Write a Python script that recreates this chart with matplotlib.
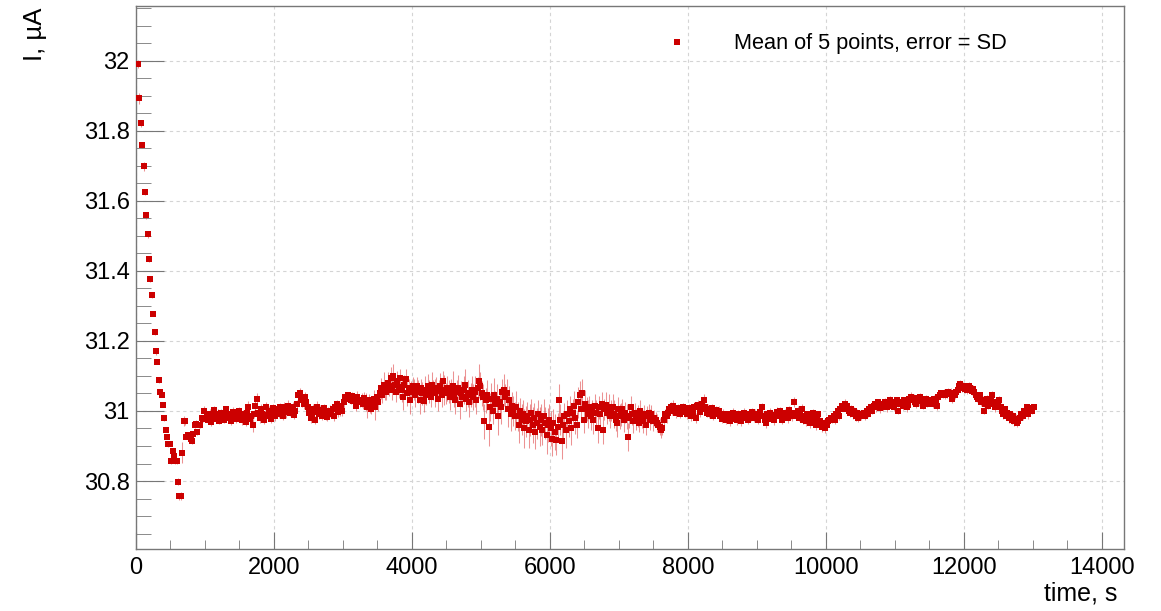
import numpy as np
import matplotlib.pyplot as plt
from matplotlib.ticker import MultipleLocator, FuncFormatter
from matplotlib.lines import Line2D

plt.rcParams['font.family'] = ['Liberation Sans', 'DejaVu Sans']

# DATA: mean current (uA), one point every 20 s starting at 30 s
T_START = 30
T_STEP = 20

current = [
    31.991, 31.892, 31.821, 31.759, 31.698, 31.625, 31.558, 31.505, 31.433, 31.376, 31.330, 31.278, 31.226, 31.170, 31.140, 31.089, 31.053, 31.045, 31.017, 30.979, 30.946, 30.927, 30.906, 30.906, 30.858,
    30.887, 30.871, 30.858, 30.858, 30.798, 30.757, 30.757, 30.881, 30.971, 30.971, 30.927, 30.932, 30.927, 30.920, 30.913, 30.933, 30.960, 30.963, 30.939, 30.960, 30.960, 30.981, 30.978, 31.001, 30.981,
    30.985, 30.975, 30.992, 30.968, 30.980, 31.002, 30.985, 30.978, 30.990, 30.972, 30.995, 30.988, 30.975, 30.982, 31.005, 30.990, 30.980, 30.970, 30.985, 30.998, 30.992, 30.978, 30.985, 31.000, 30.988,
    30.975, 30.990, 30.982, 30.968, 30.995, 31.010, 30.978, 30.985, 30.960, 30.992, 31.015, 31.035, 30.995, 30.980, 31.005, 30.990, 30.975, 30.988, 31.010, 30.985, 31.000, 30.978, 30.995, 31.008, 30.985,
    30.995, 31.005, 30.990, 31.010, 31.002, 30.985, 31.012, 30.998, 31.008, 31.015, 30.995, 31.005, 31.010, 30.988, 31.000, 31.020, 31.045, 31.050, 31.035, 31.030, 31.020, 31.040, 31.025, 31.010, 30.995,
    30.980, 30.992, 31.005, 30.975, 30.998, 31.010, 30.990, 31.002, 30.985, 30.995, 31.008, 30.988, 30.982, 30.998, 31.000, 30.990, 31.005, 30.985, 31.010, 31.020, 30.998, 31.005, 31.015, 31.000, 31.025,
    31.040, 31.035, 31.045, 31.038, 31.030, 31.042, 31.028, 31.035, 31.015, 31.040, 31.032, 31.025, 31.030, 31.020, 31.038, 31.025, 31.010, 31.030, 31.015, 31.005, 31.020, 31.035, 31.010, 31.040, 31.025,
    31.050, 31.065, 31.045, 31.075, 31.060, 31.055, 31.080, 31.070, 31.095, 31.060, 31.100, 31.075, 31.055, 31.085, 31.068, 31.095, 31.060, 31.040, 31.075, 31.090, 31.050, 31.065, 31.030, 31.055, 31.070,
    31.060, 31.045, 31.070, 31.055, 31.030, 31.065, 31.050, 31.028, 31.060, 31.045, 31.070, 31.055, 31.040, 31.075, 31.060, 31.050, 31.065, 31.035, 31.058, 31.070, 31.045, 31.085, 31.060, 31.050, 31.065,
    31.055, 31.040, 31.060, 31.070, 31.045, 31.030, 31.055, 31.065, 31.020, 31.050, 31.040, 31.060, 31.075, 31.035, 31.050, 31.025, 31.045, 31.060, 31.040, 31.055, 31.030, 31.065, 31.085, 31.070, 31.050,
    31.040, 30.970, 31.030, 31.045, 30.955, 31.010, 31.035, 31.000, 31.045, 31.020, 31.035, 30.985, 31.025, 31.010, 31.055, 31.060, 31.040, 31.050, 31.005, 31.030, 30.990, 31.015, 31.000, 30.985, 31.010,
    30.985, 30.960, 31.000, 30.975, 30.990, 30.950, 30.970, 30.985, 30.945, 30.975, 30.995, 30.960, 30.980, 30.940, 30.965, 30.990, 30.955, 30.975, 30.945, 30.985, 30.965, 30.930, 30.960, 30.975, 30.950,
    30.920, 30.965, 30.940, 30.918, 30.955, 31.030, 30.975, 30.915, 30.960, 30.985, 30.945, 30.990, 30.970, 31.005, 30.950, 30.995, 31.015, 30.980, 30.960, 31.025, 31.045, 31.005, 31.050, 30.975, 31.020,
    31.005, 30.990, 31.010, 30.985, 31.000, 30.975, 31.015, 30.995, 30.950, 31.010, 30.990, 31.020, 30.945, 31.005, 31.018, 30.995, 31.010, 30.985, 31.000, 31.012, 30.990, 30.975, 30.965, 31.005, 30.985,
    30.990, 31.005, 30.975, 30.995, 30.985, 30.925, 30.980, 31.010, 30.990, 30.970, 30.995, 30.975, 30.985, 30.965, 31.000, 30.980, 30.970, 30.990, 30.960, 30.985, 30.995, 30.975, 30.990, 30.970, 30.980,
    30.975, 30.965, 30.960, 30.955, 30.945, 30.950, 30.975, 30.990, 30.985, 30.995, 31.005, 31.010, 31.000, 31.015, 31.005, 30.995, 31.008, 31.000, 30.990, 31.005, 31.012, 30.998, 31.000, 30.990, 31.008,
    31.000, 30.985, 30.995, 31.012, 30.980, 31.015, 31.018, 30.998, 31.005, 31.020, 31.030, 31.010, 30.995, 31.005, 30.990, 31.000, 31.008, 30.985, 30.995, 31.002, 30.990, 31.000, 30.985, 30.978, 30.992,
    30.985, 30.975, 30.990, 30.980, 30.970, 30.985, 30.995, 30.978, 30.988, 30.975, 30.992, 30.982, 30.970, 30.985, 30.995, 30.980, 30.988, 30.975, 30.990, 30.985, 30.998, 30.980, 30.992, 30.985, 30.975,
    30.990, 30.998, 31.010, 30.985, 30.975, 30.965, 30.990, 30.982, 30.995, 30.978, 30.988, 30.975, 30.985, 30.998, 30.990, 31.000, 30.985, 30.975, 30.990, 30.995, 30.985, 30.980, 31.002, 30.990, 30.985,
    31.025, 30.995, 30.985, 31.000, 30.980, 30.990, 31.005, 30.975, 30.985, 30.970, 30.990, 30.980, 30.965, 30.985, 30.995, 30.975, 30.960, 30.980, 30.990, 30.970, 30.960, 30.955, 30.965, 30.950, 30.960,
    30.970, 30.975, 30.980, 30.978, 30.985, 30.975, 30.990, 31.000, 30.985, 31.005, 31.015, 31.010, 31.020, 31.005, 31.015, 31.000, 30.995, 31.005, 30.990, 31.000, 30.985, 30.995, 30.980, 30.992, 30.985,
    30.990, 30.995, 30.985, 31.000, 30.992, 31.005, 31.010, 31.000, 31.015, 31.020, 31.010, 31.025, 31.015, 31.008, 31.020, 31.012, 31.025, 31.018, 31.010, 31.020, 31.030, 31.015, 31.022, 31.010, 31.025,
    31.030, 31.000, 31.020, 31.025, 31.015, 31.030, 31.022, 31.010, 31.018, 31.035, 31.040, 31.030, 31.038, 31.025, 31.020, 31.035, 31.028, 31.040, 31.030, 31.015, 31.025, 31.035, 31.020, 31.030, 31.025,
    31.030, 31.020, 31.035, 31.025, 31.015, 31.040, 31.045, 31.050, 31.048, 31.052, 31.045, 31.050, 31.055, 31.048, 31.052, 31.035, 31.050, 31.045, 31.055, 31.060, 31.072, 31.078, 31.065, 31.070, 31.062,
    31.068, 31.060, 31.072, 31.065, 31.058, 31.062, 31.055, 31.045, 31.040, 31.035, 31.045, 31.025, 31.030, 31.000, 31.020, 31.035, 31.015, 31.025, 31.030, 31.045, 31.020, 31.010, 31.025, 31.015, 31.030,
    31.010, 31.000, 30.990, 31.005, 30.985, 30.995, 30.980, 30.990, 30.975, 30.985, 30.970, 30.978, 30.965, 30.972, 30.980, 30.990, 30.985, 31.000, 30.995, 31.010, 30.990, 31.002, 31.008, 31.000, 31.010,
]

# standard deviation of each mean, in units of 0.001 uA
current_sd_milli = [
    11, 15, 10, 9, 12, 8, 9, 10, 8, 7, 7, 8, 8, 10, 7, 8, 6, 6, 7, 8, 6, 7, 8, 6, 9,
    7, 8, 8, 8, 10, 10, 12, 30, 15, 10, 8, 9, 8, 10, 8, 7, 9, 10, 8, 9, 10, 8, 9, 12, 10,
    12, 10, 14, 11, 9, 13, 10, 12, 15, 9, 11, 14, 10, 12, 9, 13, 11, 10, 12, 14, 9, 11, 13, 10, 12,
    14, 12, 16, 10, 13, 18, 11, 15, 20, 12, 14, 16, 10, 13, 15, 12, 11, 14, 16, 10, 13, 12, 15, 11, 14,
    13, 15, 10, 12, 16, 11, 14, 18, 12, 15, 10, 13, 17, 12, 14, 11, 16, 15, 12, 18, 14, 13, 16, 12, 15,
    14, 12, 16, 11, 15, 18, 12, 14, 10, 16, 13, 15, 12, 14, 17, 11, 15, 13, 16, 12, 14, 18, 13, 15, 17,
    12, 14, 10, 15, 11, 13, 16, 12, 14, 18, 11, 15, 20, 13, 16, 25, 30, 18, 22, 15, 20, 26, 35, 20, 24,
    25, 30, 22, 35, 28, 24, 32, 26, 30, 28, 35, 25, 30, 28, 32, 26, 34, 38, 28, 30, 35, 26, 40, 30, 28,
    30, 35, 28, 32, 38, 26, 34, 30, 40, 28, 35, 32, 30, 36, 28, 40, 32, 35, 30, 38, 34, 28, 42, 30, 36,
    32, 38, 30, 45, 35, 40, 32, 38, 42, 35, 30, 40, 46, 34, 38, 42, 35, 40, 36, 44, 38, 32, 48, 40, 35,
    38, 50, 35, 42, 55, 40, 45, 38, 50, 36, 42, 55, 40, 48, 36, 45, 38, 42, 50, 40, 46, 38, 44, 40, 48,
    42, 50, 38, 45, 40, 55, 44, 40, 52, 46, 38, 50, 42, 48, 44, 40, 55, 46, 42, 50, 45, 52, 48, 44, 50,
    48, 42, 50, 45, 40, 46, 44, 52, 40, 38, 50, 42, 45, 38, 48, 40, 42, 46, 38, 44, 40, 36, 42, 38, 40,
    35, 40, 32, 38, 30, 42, 34, 36, 40, 32, 38, 34, 40, 30, 36, 32, 38, 34, 30, 36, 40, 32, 38, 34, 36,
    32, 28, 34, 30, 36, 40, 28, 32, 30, 34, 28, 30, 32, 26, 30, 28, 32, 26, 30, 28, 25, 30, 26, 28, 24,
    22, 25, 20, 24, 22, 18, 20, 16, 18, 15, 14, 16, 12, 15, 13, 14, 12, 15, 11, 13, 12, 14, 11, 13, 12,
    12, 14, 10, 13, 15, 11, 12, 14, 10, 13, 18, 12, 11, 14, 10, 12, 13, 11, 14, 12, 10, 13, 11, 12, 14,
    11, 13, 10, 12, 14, 11, 13, 10, 12, 15, 11, 13, 12, 10, 14, 11, 13, 12, 10, 14, 11, 12, 13, 10, 12,
    12, 10, 14, 11, 13, 15, 12, 11, 13, 10, 12, 14, 11, 13, 10, 12, 14, 11, 13, 12, 10, 13, 11, 12, 14,
    15, 12, 11, 13, 10, 12, 14, 11, 13, 12, 10, 14, 13, 11, 12, 10, 14, 12, 11, 13, 12, 15, 11, 14, 13,
    11, 12, 10, 13, 11, 12, 10, 14, 11, 13, 12, 10, 14, 11, 12, 10, 13, 11, 12, 10, 13, 11, 12, 10, 11,
    10, 12, 11, 13, 10, 12, 11, 10, 13, 11, 12, 10, 11, 13, 10, 12, 11, 10, 12, 11, 13, 10, 12, 11, 10,
    11, 10, 12, 11, 13, 10, 11, 12, 10, 11, 13, 12, 10, 11, 12, 10, 13, 11, 12, 10, 11, 12, 10, 11, 12,
    12, 11, 10, 12, 11, 13, 10, 11, 12, 10, 11, 12, 10, 11, 13, 12, 10, 11, 12, 10, 12, 11, 10, 12, 11,
    11, 12, 10, 13, 11, 12, 10, 11, 13, 12, 10, 11, 12, 10, 12, 11, 10, 12, 11, 13, 10, 12, 11, 10, 12,
    12, 11, 13, 10, 12, 11, 13, 10, 12, 11, 13, 12, 10, 12, 11, 13, 10, 12, 11, 10, 12, 11, 13, 10, 11,
]

LEGEND_LABEL = 'Mean of 5 points, error = SD'

current = np.array(current)
current_sd = np.array(current_sd_milli) / 1000.0
time = T_START + T_STEP * np.arange(len(current))

fig = plt.figure(figsize=(11.61, 6.11), dpi=100)
ax = fig.add_axes([136/1161, 1 - 549/611, (1124 - 136)/1161, (549 - 6)/611])

# error bars (light) then markers on top
ax.errorbar(time, current, yerr=current_sd, fmt='none', ecolor='#e04a4c',
            elinewidth=0.75, alpha=0.6, capsize=0, zorder=2)
ax.plot(time, current, 's', color='#cc0000', markersize=4.0,
        markeredgewidth=0, zorder=3)

ax.set_xlim(0, 14320)
ax.set_ylim(30.606, 32.156)

ax.xaxis.set_major_locator(MultipleLocator(2000))
ax.xaxis.set_minor_locator(MultipleLocator(500))
ax.yaxis.set_major_locator(MultipleLocator(0.2))
ax.yaxis.set_minor_locator(MultipleLocator(0.05))
ax.yaxis.set_major_formatter(FuncFormatter(lambda v, p: '%g' % round(v, 3)))
ax.xaxis.set_major_formatter(FuncFormatter(lambda v, p: '%d' % v))

ax.tick_params(axis='both', which='both', direction='in', color='#777777',
               labelsize=17, top=False, right=False)
ax.tick_params(axis='y', which='major', length=20, pad=4.5)
ax.tick_params(axis='y', which='minor', length=11)
ax.tick_params(axis='x', which='major', length=12, pad=6)
ax.tick_params(axis='x', which='minor', length=6.5)

ax.grid(True, which='major', color='#d4d4d4', linestyle=(0, (3, 3)), linewidth=0.8)
ax.set_axisbelow(True)
for sp in ax.spines.values():
    sp.set_color('#777777')
    sp.set_linewidth(1.0)

fig.text(1117/1161, 1 - 600/611, 'time, s', ha='right', va='baseline', fontsize=18)
fig.text(35/1161, 1 - 8/611, 'I, µA', ha='center', va='top', rotation=90, fontsize=18.5)

handle = Line2D([], [], marker='s', linestyle='none', color='#cc0000',
                markersize=4.0, markeredgewidth=0)
ax.legend([handle], [LEGEND_LABEL], loc='center left',
          bbox_to_anchor=(666/1161, 1 - 44/611), bbox_transform=fig.transFigure,
          frameon=False, fontsize=15.7, handlelength=1.0, handletextpad=2.1,
          borderpad=0, borderaxespad=0)

fig.savefig('out.png', dpi=100)
